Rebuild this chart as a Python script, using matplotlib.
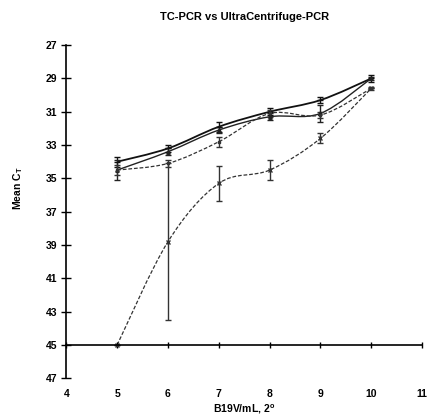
import matplotlib.pyplot as plt
import numpy as np
from matplotlib.path import Path
from matplotlib.patches import PathPatch

plt.rcParams['font.family'] = ['Liberation Sans', 'DejaVu Sans']

# B19V/mL (log2 units)
dose = [5, 6, 7, 8, 9, 10]

series_a = [34.0, 33.2, 31.9, 31.0, 30.3, 29.0]
series_a_err = [0.3, 0.2, 0.3, 0.2, 0.2, 0.2]
series_b = [34.5, 33.4, 32.1, 31.3, 31.1, 29.0]
series_b_err = [0.6, 0.2, 0.2, 0.2, 0.5, 0.1]
series_c = [34.5, 34.1, 32.8, 31.1, 31.2, 29.6]
series_c_err = [0.3, 0.2, 0.3, 0.2, 0.2, 0.1]
series_d = [45.0, 38.8, 35.3, 34.5, 32.6, 29.6]
series_d_err = [0.0, 4.7, 1.05, 0.6, 0.3, 0.0]

y_ticks = [27, 29, 31, 33, 35, 37, 39, 41, 43, 45, 47]
x_ticks = [4, 5, 6, 7, 8, 9, 10, 11]


def smooth_line(ax, xs, ys, **kw):
    # Excel style smoothed line (Catmull-Rom as cubic Bezier)
    pts = np.column_stack([xs, ys]).astype(float)
    n = len(pts)
    verts = [pts[0]]
    codes = [Path.MOVETO]
    for i in range(n - 1):
        p0 = pts[i - 1] if i > 0 else pts[i]
        p1 = pts[i]
        p2 = pts[i + 1]
        p3 = pts[i + 2] if i + 2 < n else pts[i + 1]
        c1 = p1 + (p2 - p0) / 6.0
        c2 = p2 - (p3 - p1) / 6.0
        verts += [c1, c2, p2]
        codes += [Path.CURVE4] * 3
    patch = PathPatch(Path(verts, codes), fill=False, transform=ax.transData, **kw)
    ax.add_patch(patch)


fig, ax = plt.subplots(figsize=(4.28, 4.18), dpi=100)
fig.subplots_adjust(left=0.155, right=0.986, top=0.892, bottom=0.095)

smooth_line(ax, dose, series_a, edgecolor='#111111', linewidth=1.3, linestyle='-')
smooth_line(ax, dose, series_b, edgecolor='#222222', linewidth=1.0, linestyle='-')
smooth_line(ax, dose, series_c, edgecolor='#333333', linewidth=0.9, linestyle=(0, (3, 1.5)))
smooth_line(ax, dose, series_d, edgecolor='#333333', linewidth=0.9, linestyle=(0, (3, 1.5)))

ax.errorbar(dose, series_a, yerr=series_a_err, fmt='_', color='#111111', markersize=5,
            elinewidth=1.0, capsize=2.5, capthick=1.0)
ax.errorbar(dose, series_b, yerr=series_b_err, fmt='^', color='#222222', markersize=2.5,
            elinewidth=1.0, capsize=2.5, capthick=1.0)
ax.errorbar(dose, series_c, yerr=series_c_err, fmt='s', color='#333333', markersize=2,
            elinewidth=1.0, capsize=2.5, capthick=1.0)
ax.errorbar(dose, series_d, yerr=series_d_err, fmt='x', color='#333333', markersize=3.5,
            elinewidth=1.0, capsize=2.5, capthick=1.0)

ax.set_xlim(4, 11)
ax.set_ylim(47, 27)
ax.set_yticks(y_ticks)
ax.set_xticks(x_ticks)

ax.spines['top'].set_visible(False)
ax.spines['right'].set_visible(False)
ax.spines['bottom'].set_position(('data', 45))
ax.spines['bottom'].set_linewidth(1.2)
ax.spines['left'].set_linewidth(1.2)

ax.tick_params(axis='y', direction='inout', length=7, width=1.0, labelsize=7.5, pad=3)
ax.tick_params(axis='x', direction='inout', length=5, width=1.0, labelsize=7.5, pad=29)
for lab in ax.get_xticklabels() + ax.get_yticklabels():
    lab.set_fontweight('bold')

ax.set_ylabel('Mean C$_\\mathregular{T}$', fontsize=7.5, fontweight='bold')
ax.yaxis.set_label_coords(-0.115, 0.57)
ax.set_xlabel('B19V/mL, 2$^\\mathregular{o}$', fontsize=7.5, fontweight='bold', labelpad=3)
ax.set_title('TC-PCR vs UltraCentrifuge-PCR', fontsize=8, fontweight='bold', pad=18)

plt.savefig('out.png', dpi=100)
